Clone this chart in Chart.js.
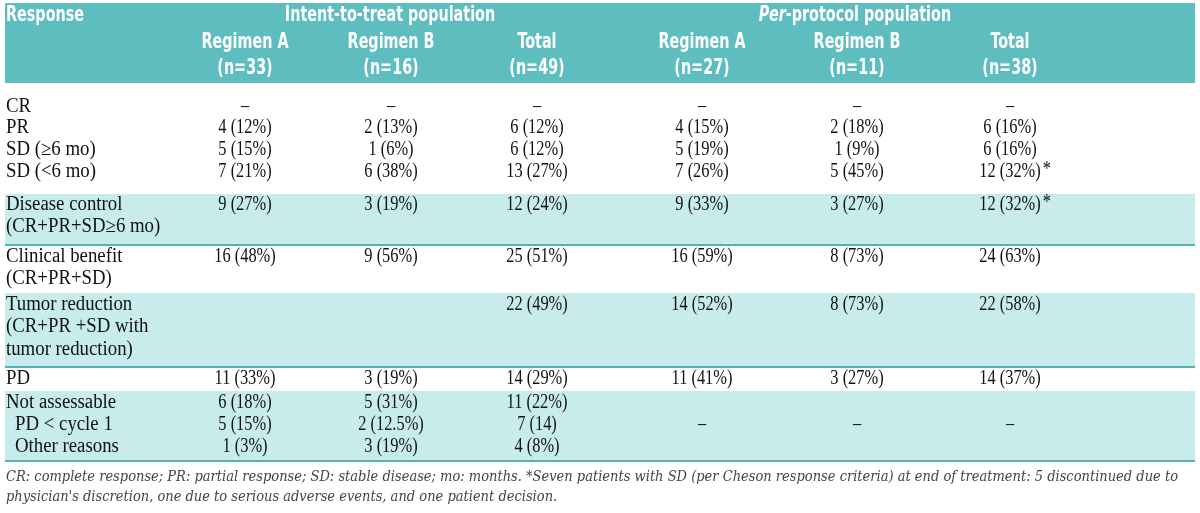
<!DOCTYPE html>
<html>
<head>
<meta charset="utf-8">
<script src="https://cdn.jsdelivr.net/npm/chart.js@4/dist/chart.umd.min.js"></script>
<style>
html,body{margin:0;padding:0;background:#fff}
canvas{display:block}
</style>
</head>
<body>
<canvas id="tableChart" width="1200" height="513"></canvas>
<script>
// table content
const groupTitles = ['Intent-to-treat population', 'Per-protocol population']
const columnTitles = ['Regimen A', 'Regimen B', 'Total', 'Regimen A', 'Regimen B', 'Total']
const columnCounts = ['(n=33)', '(n=16)', '(n=49)', '(n=27)', '(n=11)', '(n=38)']

const responseLabels = ['CR', 'PR', 'SD (≥6 mo)', 'SD (<6 mo)', 'Disease control', '(CR+PR+SD≥6 mo)',
  'Clinical benefit', '(CR+PR+SD)', 'Tumor reduction', '(CR+PR +SD with', 'tumor reduction)',
  'PD', 'Not assessable', 'PD < cycle 1', 'Other reasons']
const subRow = [0,0,0,0,0,0,0,0,0,0,0,0,0,1,1]

const ittRegimenA = ['–','4 (12%)','5 (15%)','7 (21%)','9 (27%)','','16 (48%)','','','','','11 (33%)','6 (18%)','5 (15%)','1 (3%)']
const ittRegimenB = ['–','2 (13%)','1 (6%)','6 (38%)','3 (19%)','','9 (56%)','','','','','3 (19%)','5 (31%)','2 (12.5%)','3 (19%)']
const ittTotal = ['–','6 (12%)','6 (12%)','13 (27%)','12 (24%)','','25 (51%)','','22 (49%)','','','14 (29%)','11 (22%)','7 (14)','4 (8%)']
const ppRegimenA = ['–','4 (15%)','5 (19%)','7 (26%)','9 (33%)','','16 (59%)','','14 (52%)','','','11 (41%)','','–','']
const ppRegimenB = ['–','2 (18%)','1 (9%)','5 (45%)','3 (27%)','','8 (73%)','','8 (73%)','','','3 (27%)','','–','']
const ppTotal = ['–','6 (16%)','6 (16%)','12 (32%)*','12 (32%)*','','24 (63%)','','22 (58%)','','','14 (37%)','','–','']

const footnote = ["CR: complete response; PR: partial response; SD: stable disease; mo: months. *Seven patients with SD (per Cheson response criteria) at end of treatment: 5 discontinued due to",
  "physician's discretion, one due to serious adverse events, and one patient decision."]

const columns = [ittRegimenA, ittRegimenB, ittTotal, ppRegimenA, ppRegimenB, ppTotal]

// layout (table units = pixels of the 1200x513 frame)
const layout = {
  left: 5, right: 1195,
  header: [3, 83],
  colX: [245, 391, 537, 702, 857, 1010],
  groupX: [390, 855],
  lineY: [107,128,150,172,205,227,257,279,305,327,350,379,403,425,447],
  bands: [[194,245],[293,367],[391,461]],
  footY: [477, 497]
}

const HEAD_COLOR = '#5ebebf'
const BAND_COLOR = '#c8ebeb'
const RULE_COLOR = '#5aafb3'
const HEAD_FONT = 'bold 21px "Liberation Sans Narrow", "DejaVu Sans Condensed", sans-serif'
const BODY_FONT = '20px "Liberation Serif", "DejaVu Serif", serif'
const HEAD_SX = 0.76
const LABEL_SX = 0.94
const VALUE_SX = 0.82

function txt(ctx, s, x, y, align, sx){
  ctx.save()
  ctx.translate(x, y)
  ctx.scale(sx, 1)
  ctx.textAlign = align
  ctx.fillText(s, 0, 0)
  ctx.restore()
}

const tablePlugin = {
  id: 'tablePlugin',
  beforeDatasetsDraw(chart){
    const ctx = chart.ctx, xs = chart.scales.x, ys = chart.scales.y
    const px = v => xs.getPixelForValue(v), py = v => ys.getPixelForValue(v)
    ctx.save()
    ctx.fillStyle = HEAD_COLOR
    ctx.fillRect(px(layout.left), py(layout.header[0]), px(layout.right)-px(layout.left), py(layout.header[1])-py(layout.header[0]))
    layout.bands.forEach(b => {
      ctx.fillStyle = BAND_COLOR
      ctx.fillRect(px(layout.left), py(b[0]), px(layout.right)-px(layout.left), py(b[1])-py(b[0]))
      ctx.fillStyle = RULE_COLOR
      ctx.fillRect(px(layout.left), py(b[1])-1, px(layout.right)-px(layout.left), 2)
    })
    ctx.restore()
  },
  afterDraw(chart){
    const ctx = chart.ctx, xs = chart.scales.x, ys = chart.scales.y
    const px = v => xs.getPixelForValue(v), py = v => ys.getPixelForValue(v)
    ctx.save()
    ctx.textBaseline = 'middle'

    // header
    ctx.fillStyle = '#fff'
    ctx.font = HEAD_FONT
    txt(ctx, 'Response', px(6), py(16), 'left', HEAD_SX)
    txt(ctx, groupTitles[0], px(layout.groupX[0]), py(16), 'center', HEAD_SX)
    // "Per" italic then rest
    const rest = groupTitles[1].slice(3)
    ctx.font = 'italic ' + HEAD_FONT
    const wPer = ctx.measureText('Per').width*HEAD_SX
    ctx.font = HEAD_FONT
    const wRest = ctx.measureText(rest).width*HEAD_SX
    const x0 = px(layout.groupX[1]) - (wPer + wRest)/2
    ctx.font = 'italic ' + HEAD_FONT
    txt(ctx, 'Per', x0, py(16), 'left', HEAD_SX)
    ctx.font = HEAD_FONT
    txt(ctx, rest, x0 + wPer, py(16), 'left', HEAD_SX)
    columnTitles.forEach((t,i) => {
      txt(ctx, t, px(layout.colX[i]), py(43), 'center', HEAD_SX)
      txt(ctx, columnCounts[i], px(layout.colX[i]), py(69), 'center', HEAD_SX)
    })

    // body
    ctx.fillStyle = '#111'
    ctx.font = BODY_FONT
    responseLabels.forEach((lab,r) => {
      const y = py(layout.lineY[r])
      txt(ctx, lab, px(layout.left + 1 + subRow[r]*9), y, 'left', LABEL_SX)
      columns.forEach((col,c) => {
        let v = col[r]
        if(!v) return
        const star = v.endsWith('*')
        if(star) v = v.slice(0,-1)
        txt(ctx, v, px(layout.colX[c]), y, 'center', VALUE_SX)
        if(star){
          const w = ctx.measureText(v).width*VALUE_SX
          txt(ctx, '*', px(layout.colX[c]) + w/2 + 2, y - 2, 'left', VALUE_SX)
        }
      })
    })

    // footnote
    ctx.fillStyle = '#444'
    ctx.font = 'italic 14px "DejaVu Serif", serif'
    const fs = (px(1178) - px(6)) / ctx.measureText(footnote[0]).width
    footnote.forEach((f,i) => txt(ctx, f, px(6), py(layout.footY[i]), 'left', fs))
    ctx.restore()
  }
}

const tableChart = new Chart(
  document.getElementById('tableChart'),
  {
    type: 'scatter',
    data: { datasets: [] },
    options: {
      responsive: false,
      animation: false,
      devicePixelRatio: 1,
      layout: { padding: 0 },
      scales: {
        x: { type: 'linear', min: 0, max: 1200, display: false },
        y: { type: 'linear', min: 0, max: 513, reverse: true, display: false }
      },
      plugins: {
        legend: { display: false },
        tooltip: { enabled: false }
      }
    },
    plugins: [tablePlugin]
  }
)
</script>
</body>
</html>
